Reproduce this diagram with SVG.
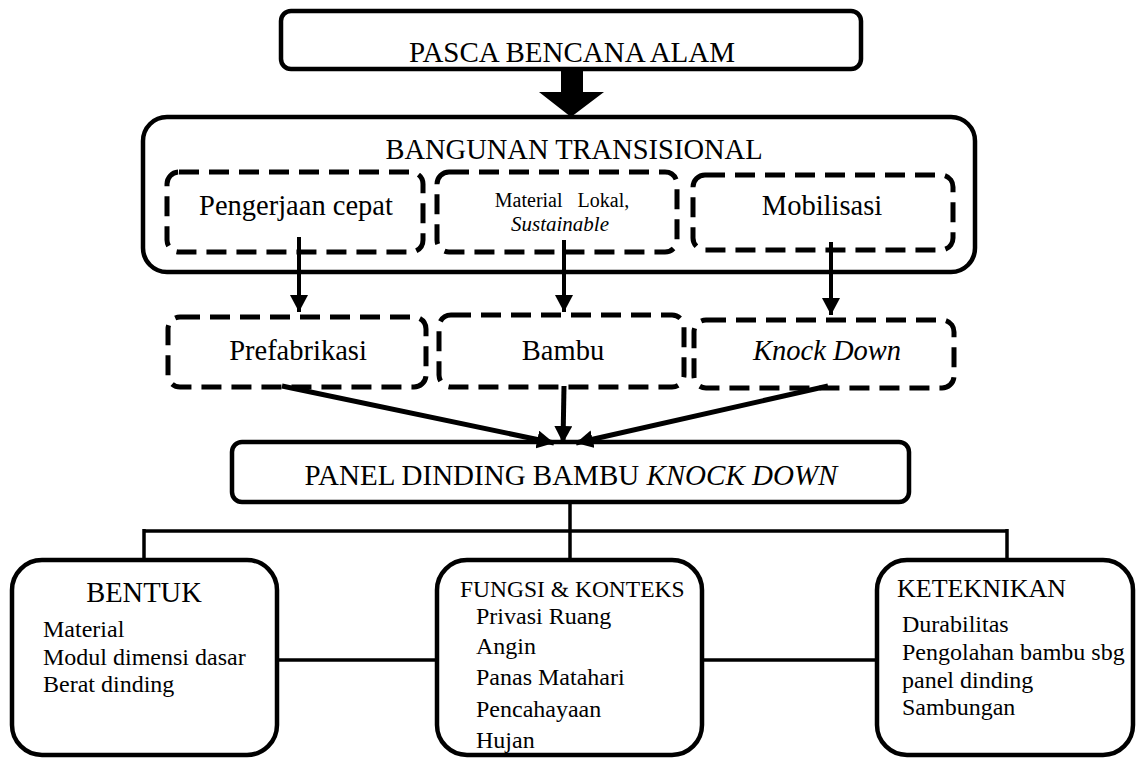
<svg xmlns="http://www.w3.org/2000/svg" width="1137" height="758" viewBox="0 0 1137 758">
<style>
.box{fill:#fff;stroke:#000;stroke-width:4.5}
.dash{fill:none;stroke:#000;stroke-width:5;stroke-dasharray:20 10}
.t{font-family:"Liberation Serif","Times New Roman",serif;fill:#000}
.c{text-anchor:middle}
.ln{stroke:#000;fill:none}
</style>
<defs>
<marker id="ah" markerUnits="userSpaceOnUse" markerWidth="18" markerHeight="18" refX="17" refY="9" orient="auto">
<path d="M0,0 L17,9 L0,18 z" fill="#000"/>
</marker>
</defs>
<g id="n-pasca">
<rect class="box" x="281" y="11" width="580" height="58" rx="10"/>
<text class="t c" x="572" y="62" font-size="29">PASCA BENCANA ALAM</text>
</g>
<g id="n-bangunan">
<rect class="box" x="143" y="117" width="832" height="155" rx="24"/>
<text class="t c" x="574" y="159" font-size="28.5">BANGUNAN TRANSISIONAL</text>
</g>
<g id="n-pengerjaan">
<rect class="dash" x="167" y="172" width="256" height="80" rx="12"/>
<text class="t c" x="296" y="215" font-size="28.5">Pengerjaan cepat</text>
</g>
<g id="n-material">
<rect class="dash" x="437" y="172" width="240" height="80" rx="12"/>
<text class="t c" x="562" y="207" font-size="20" word-spacing="10">Material Lokal,</text>
<text class="t c" x="560" y="231" font-size="21" font-style="italic">Sustainable</text>
</g>
<g id="n-mobilisasi">
<rect class="dash" x="693" y="175" width="260" height="75" rx="12"/>
<text class="t c" x="822" y="215" font-size="28.5">Mobilisasi</text>
</g>
<g id="n-prefabrikasi">
<rect class="dash" x="168" y="317" width="258" height="70" rx="12"/>
<text class="t c" x="298" y="360" font-size="28.5">Prefabrikasi</text>
</g>
<g id="n-bambu">
<rect class="dash" x="439" y="315" width="245" height="72" rx="12"/>
<text class="t c" x="563" y="360" font-size="28.5">Bambu</text>
</g>
<g id="n-knockdown">
<rect class="dash" x="694" y="320" width="260" height="68" rx="12"/>
<text class="t c" x="827" y="360" font-size="28.5" font-style="italic">Knock Down</text>
</g>
<g id="n-panel">
<rect class="box" x="232" y="442" width="677" height="60" rx="10"/>
<text class="t c" x="571" y="485" font-size="29">PANEL DINDING BAMBU <tspan font-style="italic">KNOCK DOWN</tspan></text>
</g>
<g id="n-bentuk">
<rect class="box" x="12" y="560" width="265" height="195" rx="30"/>
<text class="t c" x="144" y="602" font-size="28.5">BENTUK</text>
<text class="t" x="43" y="637" font-size="24">Material</text>
<text class="t" x="43" y="665" font-size="24">Modul dimensi dasar</text>
<text class="t" x="43" y="692" font-size="24">Berat dinding</text>
</g>
<g id="n-fungsi">
<rect class="box" x="437" y="560" width="265" height="195" rx="30"/>
<text class="t" x="460" y="597" font-size="23.5">FUNGSI &amp; KONTEKS</text>
<text class="t" x="476" y="624" font-size="24">Privasi Ruang</text>
<text class="t" x="476" y="654" font-size="24">Angin</text>
<text class="t" x="476" y="685" font-size="24">Panas Matahari</text>
<text class="t" x="476" y="717" font-size="24">Pencahayaan</text>
<text class="t" x="476" y="748" font-size="24">Hujan</text>
</g>
<g id="n-keteknikan">
<rect class="box" x="877" y="560" width="256" height="195" rx="30"/>
<text class="t" x="897" y="597" font-size="26">KETEKNIKAN</text>
<text class="t" x="902" y="632" font-size="24">Durabilitas</text>
<text class="t" x="902" y="660" font-size="24">Pengolahan bambu sbg</text>
<text class="t" x="902" y="688" font-size="24">panel dinding</text>
<text class="t" x="902" y="715" font-size="24">Sambungan</text>
</g>
<g id="connectors">
<polygon points="561,69 583,69 583,92 604,92 571,117 539,92 561,92" fill="#000"/>
<line class="ln" stroke-width="4" x1="299" y1="237" x2="299" y2="312" marker-end="url(#ah)"/>
<line class="ln" stroke-width="4" x1="564" y1="240" x2="564" y2="312" marker-end="url(#ah)"/>
<line class="ln" stroke-width="4" x1="831" y1="242" x2="831" y2="315" marker-end="url(#ah)"/>
<line class="ln" stroke-width="5" x1="282" y1="386" x2="554" y2="443" marker-end="url(#ah)"/>
<line class="ln" stroke-width="5" x1="564" y1="386" x2="563" y2="443" marker-end="url(#ah)"/>
<line class="ln" stroke-width="5" x1="828" y1="386" x2="576" y2="443" marker-end="url(#ah)"/>
<line class="ln" stroke-width="3.5" x1="570" y1="502" x2="570" y2="560"/>
<line class="ln" stroke-width="3.5" x1="144" y1="531" x2="1008" y2="531"/>
<line class="ln" stroke-width="3.5" x1="144" y1="529" x2="144" y2="560"/>
<line class="ln" stroke-width="3.5" x1="1007" y1="529" x2="1007" y2="560"/>
<line class="ln" stroke-width="3.5" x1="277" y1="660" x2="437" y2="660"/>
<line class="ln" stroke-width="3.5" x1="702" y1="660" x2="877" y2="660"/>
</g>
</svg>
